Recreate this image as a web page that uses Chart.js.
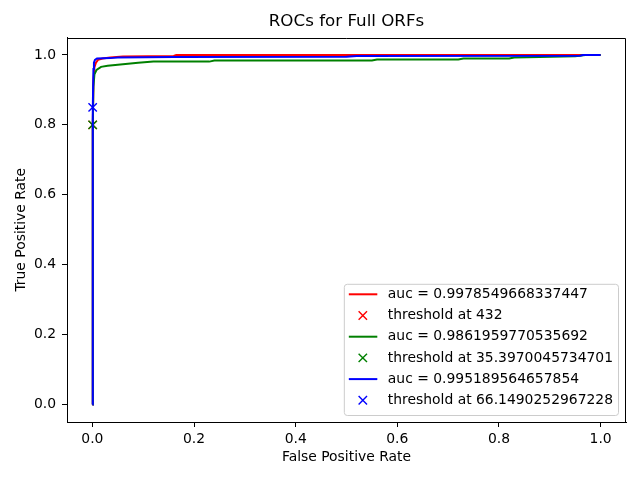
<!DOCTYPE html>
<html>
<head>
<meta charset="utf-8">
<script src="https://cdn.jsdelivr.net/npm/chart.js@4/dist/chart.umd.min.js"></script>
<style>
    html, body { margin: 0; padding: 0; background: #fff; }
    #roc { display: block; }
</style>
</head>
<body>
<canvas id="roc" width="640" height="480"></canvas>
<script>
// ROC curves (false positive rate / true positive rate)
const redFpr = [0, 0.0005, 0.001, 0.002, 0.004, 0.007, 0.011, 0.02, 0.035, 0.06, 0.16, 0.165, 1.0];
const redTpr = [0, 0.50, 0.80, 0.93, 0.965, 0.978, 0.986, 0.99, 0.993, 0.996, 0.997, 1.0, 1.0];

const greenFpr = [0, 0.0005, 0.001, 0.002, 0.004, 0.008, 0.017, 0.03, 0.05, 0.07, 0.09, 0.12,
    0.23, 0.24, 0.55, 0.56, 0.72, 0.73, 0.82, 0.83, 0.88, 0.95, 0.97, 1.0];
const greenTpr = [0, 0.50, 0.80, 0.91, 0.945, 0.957, 0.966, 0.969, 0.972, 0.975, 0.978, 0.981,
    0.981, 0.984, 0.984, 0.987, 0.987, 0.990, 0.990, 0.993, 0.994, 0.996, 1.0, 1.0];

const blueFpr = [0, 0.0005, 0.001, 0.002, 0.003, 0.005, 0.009, 0.035, 0.05, 0.16, 0.5, 0.52, 0.96, 0.965, 1.0];
const blueTpr = [0, 0.55, 0.85, 0.96, 0.978, 0.986, 0.990, 0.991, 0.993, 0.994, 0.995, 0.997, 0.998, 1.0, 1.0];

// threshold markers (red, green, blue)
const thresholdFpr = [0.0005, 0.0005, 0.0005];
const thresholdTpr = [0.80, 0.80, 0.85];

const aucLabels = ['auc = 0.9978549668337447', 'auc = 0.9861959770535692', 'auc = 0.995189564657854'];
const thresholdLabels = ['threshold at 432', 'threshold at 35.3970045734701', 'threshold at 66.1490252967228'];
const seriesColors = ['#ff0000', '#008000', '#0000ff'];

const axisTicks = [0, 0.2, 0.4, 0.6, 0.8, 1.0];

const FONT = 'DejaVu Sans';
Chart.defaults.font.family = FONT;
Chart.defaults.color = '#000';

function toPoints(xs, ys) {
    return xs.map((x, i) => ({ x: x, y: ys[i] }));
}

const curves = [[redFpr, redTpr], [greenFpr, greenTpr], [blueFpr, blueTpr]];
const datasets = [];
curves.forEach((c, i) => {
    datasets.push({
        label: aucLabels[i],
        data: toPoints(c[0], c[1]),
        showLine: true,
        borderColor: seriesColors[i],
        borderWidth: 2,
        pointRadius: 0,
        fill: false,
        order: 6 - i * 2
    });
    datasets.push({
        label: thresholdLabels[i],
        data: [{ x: thresholdFpr[i], y: thresholdTpr[i] }],
        showLine: false,
        pointStyle: 'crossRot',
        pointRadius: 5.9,
        pointBorderWidth: 1.4,
        borderColor: seriesColors[i],
        backgroundColor: seriesColors[i],
        order: 5 - i * 2
    });
});

function fixedTicks(scale) {
    scale.ticks = axisTicks.map(v => ({ value: v }));
}

const decorations = {
    id: 'decorations',
    afterDraw(chart) {
        const ctx = chart.ctx;
        const a = chart.chartArea;
        ctx.save();

        // top and right spines (bottom/left come from the scale borders)
        ctx.strokeStyle = '#000';
        ctx.lineWidth = 1;
        const top = Math.round(a.top) + 0.5;
        const right = Math.round(a.right) - 0.5;
        ctx.beginPath();
        ctx.moveTo(a.left, top);
        ctx.lineTo(right, top);
        ctx.lineTo(right, a.bottom);
        ctx.stroke();

        // title and axis labels
        ctx.fillStyle = '#000';
        ctx.textAlign = 'center';
        ctx.textBaseline = 'middle';
        ctx.font = '16.7px "' + FONT + '"';
        ctx.fillText('ROCs for Full ORFs', (a.left + a.right) / 2, 22);
        ctx.font = '13.9px "' + FONT + '"';
        ctx.fillText('False Positive Rate', (a.left + a.right) / 2, 457);
        ctx.save();
        ctx.translate(21, (a.top + a.bottom) / 2);
        ctx.rotate(-Math.PI / 2);
        ctx.fillText('True Positive Rate', 0, 0);
        ctx.restore();

        // legend, lower right
        const rows = [];
        for (let i = 0; i < 3; i++) {
            rows.push({ kind: 'line', color: seriesColors[i], text: aucLabels[i] });
            rows.push({ kind: 'cross', color: seriesColors[i], text: thresholdLabels[i] });
        }
        ctx.font = '13.9px "' + FONT + '"';
        const textW = Math.max(...rows.map(r => ctx.measureText(r.text).width));
        const boxRight = a.right - 8;
        const boxBottom = a.bottom - 7;
        const rowH = 21.2;
        const boxH = rowH * rows.length + 4;
        const boxW = 44 + textW + 5;
        const boxLeft = boxRight - boxW;
        const boxTop = boxBottom - boxH;

        ctx.beginPath();
        ctx.roundRect(boxLeft + 0.5, boxTop + 0.5, boxW, boxH, 3);
        ctx.fillStyle = 'rgba(255,255,255,0.8)';
        ctx.fill();
        ctx.strokeStyle = '#cccccc';
        ctx.stroke();

        rows.forEach((r, i) => {
            const y = boxTop + 10.5 + i * rowH;
            ctx.strokeStyle = r.color;
            if (r.kind === 'line') {
                ctx.lineWidth = 2;
                ctx.beginPath();
                ctx.moveTo(boxLeft + 5, y);
                ctx.lineTo(boxLeft + 33.5, y);
                ctx.stroke();
            } else {
                const cx = boxLeft + 19, h = 4.2;
                ctx.lineWidth = 1.4;
                ctx.beginPath();
                ctx.moveTo(cx - h, y - h); ctx.lineTo(cx + h, y + h);
                ctx.moveTo(cx - h, y + h); ctx.lineTo(cx + h, y - h);
                ctx.stroke();
            }
            ctx.fillStyle = '#000';
            ctx.textAlign = 'left';
            ctx.fillText(r.text, boxLeft + 44, y);
        });

        ctx.restore();
    }
};

new Chart(document.getElementById('roc'), {
    type: 'scatter',
    data: { datasets: datasets },
    options: {
        responsive: false,
        animation: false,
        devicePixelRatio: 1,
        layout: { padding: { top: 37.5, right: 14, left: 0, bottom: 0 } },
        plugins: {
            legend: { display: false },
            tooltip: { enabled: false }
        },
        scales: {
            x: {
                type: 'linear',
                min: -0.05,
                max: 1.05,
                afterBuildTicks: fixedTicks,
                afterFit: scale => { scale.height = 58; },
                grid: { drawOnChartArea: false, drawTicks: true, tickLength: 5, color: '#000' },
                border: { display: true, color: '#000', width: 1 },
                ticks: {
                    padding: 4,
                    maxRotation: 0,
                    font: { size: 13.9 },
                    callback: v => v.toFixed(1)
                }
            },
            y: {
                type: 'linear',
                min: -0.05,
                max: 1.05,
                afterBuildTicks: fixedTicks,
                afterFit: scale => { scale.width = 67; },
                grid: { drawOnChartArea: false, drawTicks: true, tickLength: 5, color: '#000' },
                border: { display: true, color: '#000', width: 1 },
                ticks: {
                    padding: 6,
                    font: { size: 13.9 },
                    callback: v => v.toFixed(1)
                }
            }
        }
    },
    plugins: [decorations]
});
</script>
</body>
</html>
